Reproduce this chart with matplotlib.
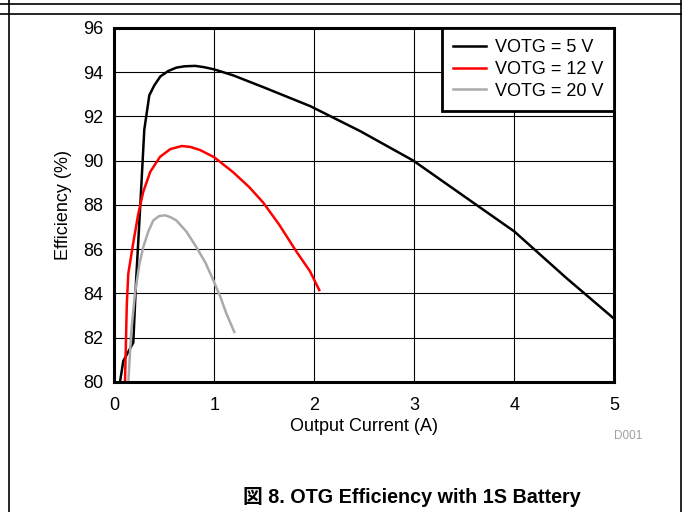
import matplotlib
matplotlib.use("Agg")
import matplotlib.pyplot as plt
from matplotlib.lines import Line2D

plt.rcParams['font.family'] = ['Liberation Sans', 'Noto Sans CJK JP', 'DejaVu Sans']

# Efficiency vs output current
i_5v = [0.057, 0.09, 0.19, 0.217, 0.26, 0.30, 0.35, 0.40, 0.46, 0.54, 0.62, 0.70, 0.81,
        0.90, 1.0, 1.19, 1.5, 1.96, 2.46, 2.99, 3.52, 4.0, 4.52, 5.0]
eff_5v = [80.0, 80.95, 81.78, 84.5, 88.0, 91.4, 92.95, 93.4, 93.8, 94.05, 94.2, 94.26, 94.28,
          94.22, 94.12, 93.85, 93.3, 92.46, 91.33, 90.0, 88.32, 86.8, 84.7, 82.85]

i_12v = [0.107, 0.125, 0.14, 0.19, 0.24, 0.29, 0.36, 0.457, 0.56, 0.674, 0.76, 0.857, 1.0,
         1.19, 1.35, 1.49, 1.65, 1.82, 1.957, 2.05]
eff_12v = [80.0, 83.5, 84.9, 86.3, 87.6, 88.6, 89.5, 90.17, 90.52, 90.66, 90.62, 90.48, 90.15,
           89.47, 88.8, 88.1, 87.1, 85.9, 85.0, 84.15]

i_20v = [0.14, 0.17, 0.207, 0.25, 0.29, 0.34, 0.39, 0.45, 0.507, 0.56, 0.62, 0.72, 0.82,
         0.91, 0.99, 1.06, 1.12, 1.2]
eff_20v = [80.0, 82.3, 84.0, 85.3, 86.1, 86.8, 87.3, 87.5, 87.53, 87.45, 87.3, 86.8, 86.1,
           85.4, 84.6, 83.85, 83.1, 82.26]

labels = ['VOTG = 5 V', 'VOTG = 12 V', 'VOTG = 20 V']
colors = ['black', '#ff0000', '#aaaaaa']

fig = plt.figure(figsize=(6.83, 5.12), dpi=100)
ax = fig.add_axes([114.3 / 683, 1 - 382 / 512, 500 / 683, 354.2 / 512])

ax.plot(i_5v, eff_5v, color=colors[0], lw=1.8, label=labels[0])
ax.plot(i_12v, eff_12v, color=colors[1], lw=1.8, label=labels[1])
ax.plot(i_20v, eff_20v, color=colors[2], lw=1.8, label=labels[2])

ax.set_xlim(0, 5)
ax.set_ylim(80, 96)
ax.set_xticks(range(0, 6))
ax.set_yticks(range(80, 97, 2))
ax.grid(True, color='black', lw=0.8)
ax.tick_params(length=0, labelsize=13, pad=8)
ax.tick_params(axis='x', pad=11)
for s in ax.spines.values():
    s.set_linewidth(2.2)

ax.set_xlabel('Output Current (A)', fontsize=13, labelpad=3)
ax.set_ylabel('Efficiency (%)', fontsize=13, labelpad=8)

leg = ax.legend(loc='upper right', borderaxespad=0, fancybox=False, framealpha=1,
                edgecolor='black', fontsize=13, handlelength=1.8, handletextpad=0.5,
                labelspacing=0.27, borderpad=0.62)
leg.get_frame().set_linewidth(2)

fig.text(628 / 683, 1 - 436 / 512, 'D001', color='#a0a0a0', fontsize=8.5,
         ha='center', va='center')
fig.text(412 / 683, 1 - 497 / 512, '図 8. OTG Efficiency with 1S Battery',
         fontsize=14.2, fontweight='bold', ha='center', va='center')

# document table frame
for y in (4, 14.3):
    fig.add_artist(Line2D([0, 680.5 / 683], [1 - y / 512] * 2, color='black', lw=1.2))
fig.add_artist(Line2D([9.3 / 683] * 2, [1, 0], color='black', lw=1.2))
fig.add_artist(Line2D([680.5 / 683] * 2, [1, 0], color='black', lw=1.2))

fig.savefig('out.png', dpi=100)
